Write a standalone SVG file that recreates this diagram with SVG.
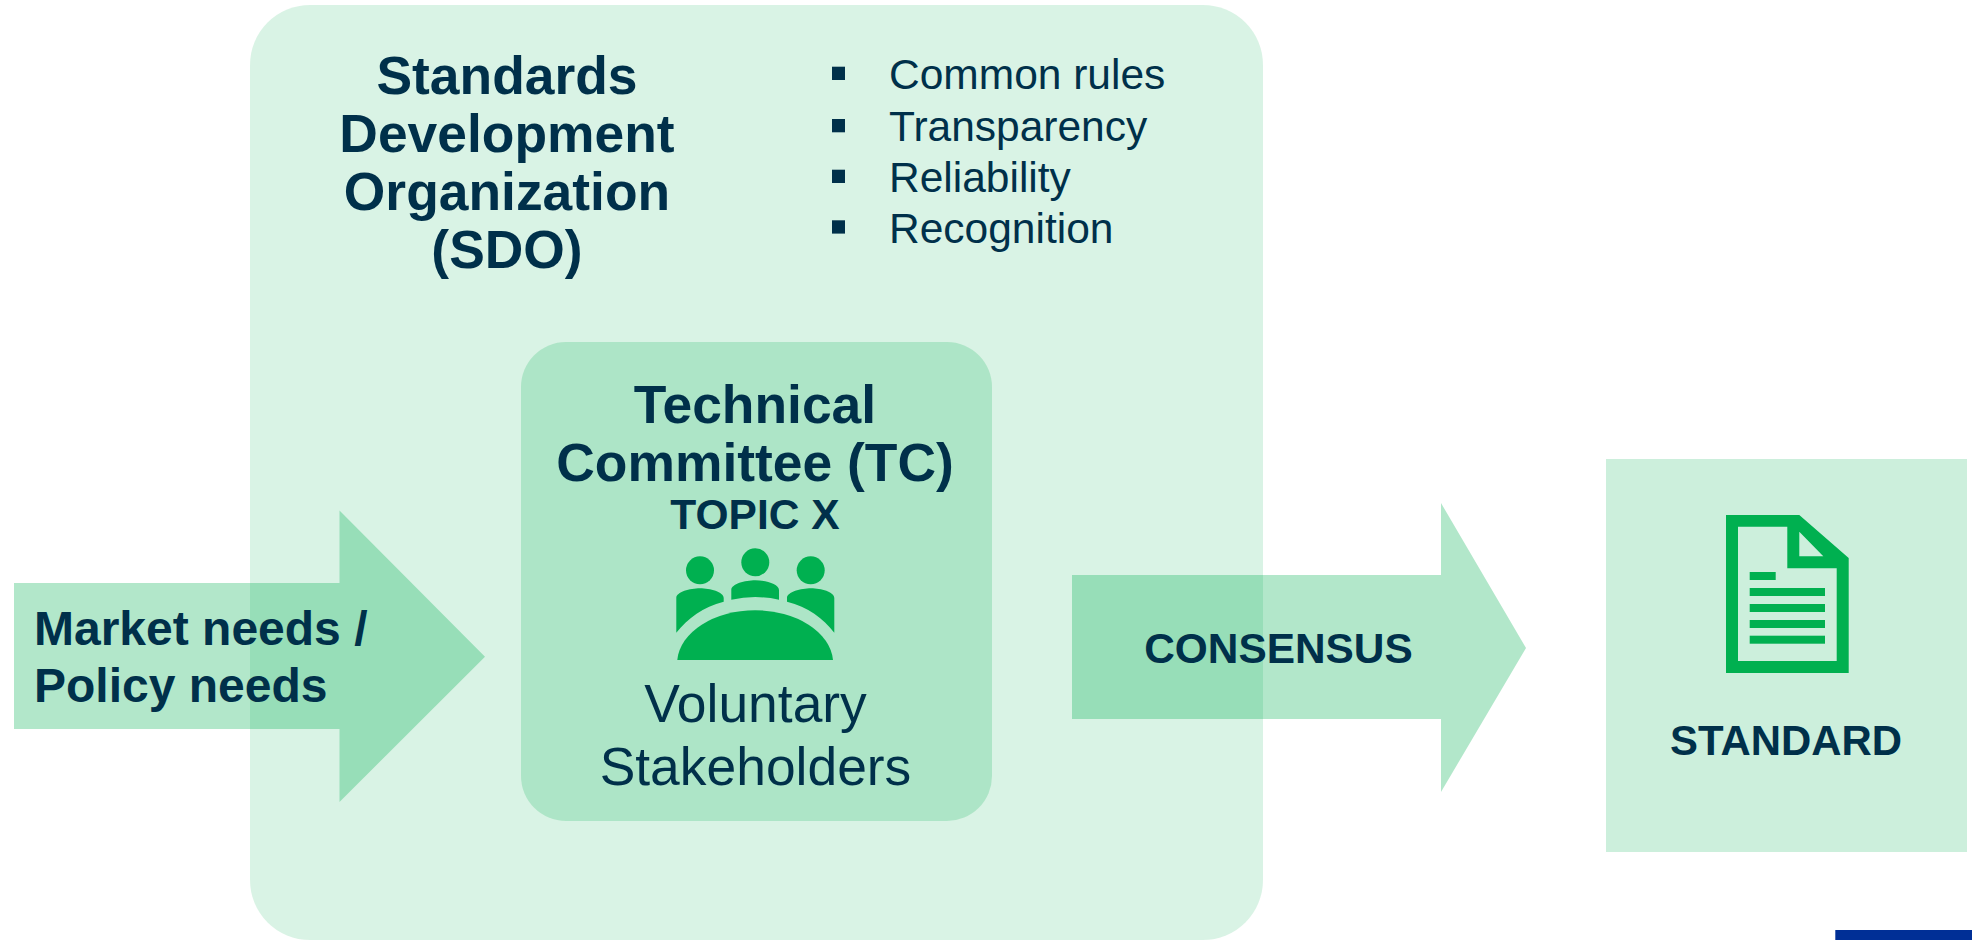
<svg xmlns="http://www.w3.org/2000/svg" width="1972" height="940" viewBox="0 0 1972 940">
<style>
text{font-family:"Liberation Sans",Arial,sans-serif;fill:#00304a}
.b{font-weight:700}
.m{text-anchor:middle}
.t53{font-size:53.4px}
.t42{font-size:42.5px}
.g{fill:#00b050}
.sq{fill:#00304a}
</style>
<rect width="1972" height="940" fill="#fff"/>
<g id="sdo">
<rect x="250" y="5" width="1013" height="935" rx="60" fill="#00b050" fill-opacity=".15"/>
<text class="b m t53" x="507" y="94">Standards</text>
<text class="b m t53" x="507" y="152">Development</text>
<text class="b m t53" x="507" y="210">Organization</text>
<text class="b m t53" x="507" y="268">(SDO)</text>
</g>
<g id="principles">
<rect class="sq" x="832" y="66.7" width="13" height="13.3"/>
<rect class="sq" x="832" y="119" width="13" height="13.3"/>
<rect class="sq" x="832" y="169.7" width="13" height="13.3"/>
<rect class="sq" x="832" y="220.3" width="13" height="13.3"/>
<text class="t42" x="889" y="89">Common rules</text>
<text class="t42" x="889" y="141">Transparency</text>
<text class="t42" x="889" y="192">Reliability</text>
<text class="t42" x="889" y="243">Recognition</text>
</g>
<g id="technical-committee">
<rect x="521" y="342" width="471" height="479" rx="45" fill="#00b050" fill-opacity=".2"/>
<text class="b m t53" x="755" y="423">Technical</text>
<text class="b m t53" x="755" y="481">Committee (TC)</text>
<text class="b m" font-size="42.500" x="755" y="529">TOPIC X</text>
<g id="people-icon" class="g">
<circle cx="700" cy="570.3" r="14"/>
<circle cx="755.3" cy="562.3" r="14"/>
<circle cx="810.7" cy="570.3" r="14"/>
<path d="M677.3 660A78 53 0 0 1 833 660Z"/>
<path d="M676.3 632.7V598C676.3 592 690 588.3 700 588.3S723.7 592 723.7 598V601.7C703 607 688 618 676.3 632.7Z"/>
<path d="M731.3 599.7V590C731.3 584 745 580.3 755.3 580.3S779 584 779 590V599.7Q755.3 594.500 731.3 599.700Z"/>
<path d="M834.300 632.700V598C834.300 592 821 588.300 811 588.300S787 592 787 598V601.700C808 607 823 618 834.300 632.700Z"/>
</g>
<text class="m t53" x="755.500" y="721.500">Voluntary</text>
<text class="m t53" x="755.500" y="785">Stakeholders</text>
</g>
<g id="connectors" fill="#00b050" fill-opacity=".3">
<path id="arrow-needs" d="M14 583H339.500V510.500L485 656.700L339.500 802V729H14Z"/>
<path id="arrow-consensus" d="M1072 575H1441V503L1526 648L1441 792V719H1072Z"/>
</g>
<g id="needs-label">
<text class="b" font-size="48" x="34" y="645">Market needs /</text>
<text class="b" font-size="48" x="34" y="702">Policy needs</text>
</g>
<g id="consensus-label">
<text class="b m" font-size="42.400" x="1278.500" y="663">CONSENSUS</text>
</g>
<g id="standard">
<rect x="1606" y="459" width="361" height="393" fill="#00b050" fill-opacity=".2"/>
<path class="g" fill-rule="evenodd" d="M1726 515H1799.300L1848.700 558V673H1726ZM1738 526.700V661H1836.700V568.300H1787.300V526.700ZM1799.300 531.700V556.300H1823.300Z"/>
<g class="g">
<rect x="1749.700" y="572" width="26" height="8"/>
<rect x="1749.700" y="588" width="75.300" height="8"/>
<rect x="1749.700" y="604" width="75.300" height="8"/>
<rect x="1749.700" y="620" width="75.300" height="8"/>
<rect x="1749.700" y="635.700" width="75.300" height="8"/>
</g>
<text class="b m" font-size="41.900" x="1786" y="755">STANDARD</text>
</g>
<g id="corner-bar">
<rect x="1835.300" y="930" width="136.700" height="10" fill="#002f96"/>
</g>
</svg>
